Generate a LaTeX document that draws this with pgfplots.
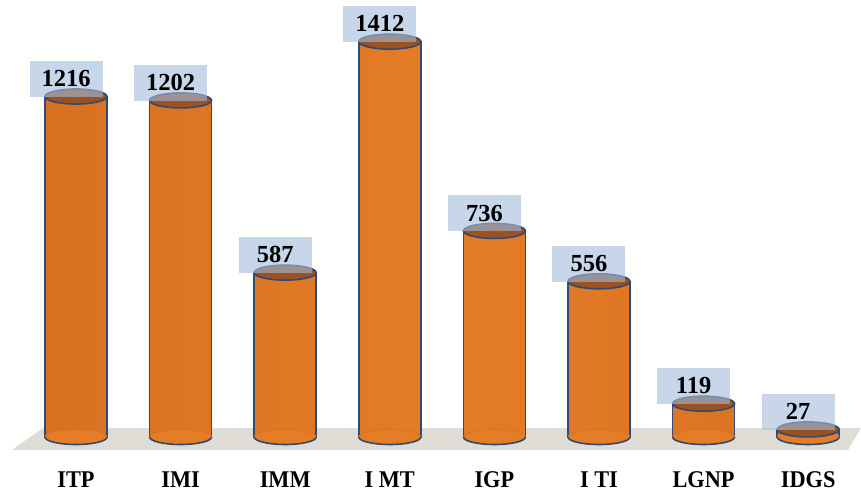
\documentclass[border=0pt]{standalone}
\usepackage{fontspec}
\newfontfamily\lsb{Liberation Serif}
\usepackage{pgfplots}
\pgfplotsset{compat=1.18}
\usepackage{graphicx}
\newcommand\sx[1]{{\lsb\fontsize{24}{26}\selectfont\bfseries\scalebox{0.93}[1]{#1}}}
\newcommand\vl[1]{{\lsb\fontsize{24.5}{26}\selectfont\bfseries #1}}
\definecolor{body}{HTML}{E57C26}
\definecolor{bodydark}{HTML}{D87122}
\definecolor{rim}{HTML}{2F4B73}
\definecolor{topfill}{HTML}{9A5223}
\definecolor{floorc}{HTML}{DEDCD4}
\definecolor{boxc}{HTML}{A2BCDB}
\pgfdeclareplotmark{cyltop}{%
  \pgfpathellipse{\pgfpointorigin}{\pgfpoint{31pt}{0pt}}{\pgfpoint{0pt}{7.5pt}}%
  \pgfusepath{fill,stroke}}
\pgfdeclareplotmark{cylbotfill}{%
  \pgfpathellipse{\pgfpointorigin}{\pgfpoint{31pt}{0pt}}{\pgfpoint{0pt}{7.5pt}}%
  \pgfusepath{fill,stroke}}
\pgfdeclareplotmark{cylbotarc}{%
  \pgfpathmoveto{\pgfpoint{-31pt}{0pt}}%
  \pgfpatharc{180}{360}{31pt and 7.5pt}%
  \pgfusepath{stroke}}
\begin{document}
\begin{tikzpicture}
\path[use as bounding box] (0pt,0pt) rectangle (861pt,494pt);
\begin{axis}[
  at={(0pt,0pt)}, anchor=south west,
  scale only axis, width=861pt, height=494pt,
  xmin=-0.7266, xmax=7.505, ymin=-203.6, ymax=1560.7,
  axis lines=none, clip=false,
  xtick=data, xticklabels={},
]
% floor
\addplot[fill=floorc, draw=none] coordinates {(-0.612,-46.4) (-0.3155,32.1) (7.505,32.1) (7.380,-46.4)} --cycle;
% bodies
\addplot[ybar, bar width=62pt, draw=none, left color=bodydark, right color=bodydark, middle color=body, forget plot]
  coordinates {(0,1216) (1,1202) (2,587) (3,1412) (4,736) (5,556) (6,119) (7,27)};
% side outlines
\addplot[ybar, bar width=62pt, draw=rim, line width=1.6pt, fill=none, forget plot]
  coordinates {(0,1216) (1,1202) (2,587) (3,1412) (4,736) (5,556) (6,119) (7,27)};
% bottom ellipses cover bottom edge
\addplot[only marks, mark=cylbotfill, mark options={fill=body, draw=bodydark, line width=0.8pt}]
  coordinates {(0,0) (1,0) (2,0) (3,0) (4,0) (5,0) (6,0) (7,0)};
\addplot[only marks, mark=cylbotarc, mark options={draw=rim, line width=1.6pt}]
  coordinates {(0,0) (1,0) (2,0) (3,0) (4,0) (5,0) (6,0) (7,0)};
% tops with labels
\addplot[only marks, mark=cyltop, mark options={fill=topfill, draw=rim, line width=1.6pt},
  point meta=explicit symbolic,
  nodes near coords={\vl{\pgfplotspointmeta}},
  every node near coord/.append style={anchor=south, xshift=-10pt, yshift=-1pt,
    fill=boxc, fill opacity=0.6, text opacity=1, minimum width=73pt, minimum height=36pt,
    inner sep=0pt}]
  coordinates {(0,1216) [1216] (1,1202) [1202] (2,587) [587] (3,1412) [1412] (4,736) [736] (5,556) [556] (6,119) [119] (7,27) [27]};
% x labels
\addplot[only marks, mark=none, point meta=explicit symbolic, nodes near coords,
  every node near coord/.append style={anchor=base, yshift=0pt}]
  coordinates {(0,-182) [\sx{ITP}] (1,-182) [\sx{IMI}] (2,-182) [\sx{IMM}] (3,-182) [\sx{I MT}]
   (4,-182) [\sx{IGP}] (5,-182) [\sx{I TI}] (6,-182) [\sx{LGNP}] (7,-182) [\sx{IDGS}]};
\end{axis}
\end{tikzpicture}
\end{document}
